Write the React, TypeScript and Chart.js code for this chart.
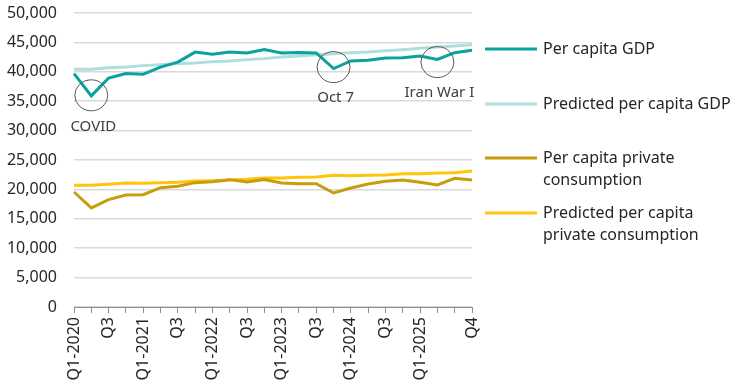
import React, { useEffect, useRef } from "react";
import { Chart, registerables } from "chart.js";

Chart.register(...registerables);

const quarters = [
  "Q1-2020", "Q2-2020", "Q3-2020", "Q4-2020",
  "Q1-2021", "Q2-2021", "Q3-2021", "Q4-2021",
  "Q1-2022", "Q2-2022", "Q3-2022", "Q4-2022",
  "Q1-2023", "Q2-2023", "Q3-2023", "Q4-2023",
  "Q1-2024", "Q2-2024", "Q3-2024", "Q4-2024",
  "Q1-2025", "Q2-2025", "Q3-2025", "Q4-2025",
];

const tickLabels = [
  "Q1-2020", "", "Q3", "",
  "Q1-2021", "", "Q3", "",
  "Q1-2022", "", "Q3", "",
  "Q1-2023", "", "Q3", "",
  "Q1-2024", "", "Q3", "",
  "Q1-2025", "", "", "Q4",
];

const gdp = [
  39700, 35900, 38950, 39700, 39600, 40800, 41650, 43350,
  43000, 43350, 43200, 43800, 43200, 43300, 43200, 40550,
  41850, 41950, 42350, 42400, 42700, 42100, 43250, 43650,
];

const predictedGdp = [
  40420, 40420, 40700, 40800, 41050, 41200, 41390, 41500,
  41730, 41840, 42070, 42240, 42520, 42690, 42920, 43090,
  43260, 43370, 43600, 43770, 44000, 44220, 44390, 44620,
];

const consumption = [
  19560, 16850, 18270, 19050, 19110, 20300, 20530, 21150,
  21320, 21660, 21250, 21660, 21090, 20980, 20980, 19390,
  20240, 20920, 21380, 21600, 21200, 20750, 21890, 21600,
];

const predictedConsumption = [
  20700, 20700, 20870, 21090, 21030, 21150, 21200, 21430,
  21490, 21600, 21720, 21940, 21940, 22060, 22110, 22400,
  22340, 22400, 22450, 22680, 22680, 22790, 22850, 23130,
];

const seriesNames = [
  ["Per capita GDP"],
  ["Predicted per capita GDP"],
  ["Per capita private", "consumption"],
  ["Predicted per capita", "private consumption"],
];

const seriesColors = ["#0aa39b", "#ade0dd", "#c89c0c", "#ffc40c"];

const eventLabels = ["COVID", "Oct 7", "Iran War I"];
const eventIndices = [1, 15, 21];
const eventValues = [36000, 40800, 41650];

const FONT = "'Noto Sans', 'Open Sans', sans-serif";
const TEXT = "#262626";

const overlayPlugin = {
  id: "overlay",
  afterDatasetsDraw(chart: any) {
    const ctx = chart.ctx as CanvasRenderingContext2D;
    const xs = chart.scales.x;
    const ys = chart.scales.y;
    ctx.save();
    for (let i = 0; i < eventLabels.length; i++) {
      const cx = xs.getPixelForValue(eventIndices[i]);
      const cy = ys.getPixelForValue(eventValues[i]);
      ctx.beginPath();
      ctx.ellipse(cx, cy, 16.5, 15.5, 0, 0, Math.PI * 2);
      ctx.strokeStyle = "#595959";
      ctx.lineWidth = 1;
      ctx.stroke();
      ctx.font = `15px ${FONT}`;
      ctx.fillStyle = "#404040";
      ctx.textAlign = "center";
      ctx.textBaseline = "middle";
      ctx.fillText(eventLabels[i], cx + 2, cy + 31);
    }
    const area = chart.chartArea;
    const lx = area.right + 13;
    const lineLen = 52;
    const itemY = [49, 104, 158, 213];
    const lineH = 22;
    ctx.font = `16px ${FONT}`;
    ctx.textAlign = "left";
    ctx.textBaseline = "middle";
    for (let i = 0; i < seriesNames.length; i++) {
      const y = itemY[i];
      ctx.beginPath();
      ctx.moveTo(lx, y);
      ctx.lineTo(lx + lineLen, y);
      ctx.strokeStyle = seriesColors[i];
      ctx.lineWidth = 3;
      ctx.stroke();
      ctx.fillStyle = TEXT;
      seriesNames[i].forEach((t, k) => {
        ctx.fillText(t, lx + lineLen + 6, y + k * lineH);
      });
    }
    ctx.restore();
  },
};

export default function App() {
  const ref = useRef<HTMLCanvasElement>(null);
  useEffect(() => {
    const datasets = [gdp, predictedGdp, consumption, predictedConsumption].map((d, i) => ({
      label: seriesNames[i].join(" "),
      data: d,
      borderColor: seriesColors[i],
      backgroundColor: seriesColors[i],
      borderWidth: 3,
      pointRadius: 0,
      tension: 0,
      fill: false,
    }));
    const chart = new Chart(ref.current as HTMLCanvasElement, {
      type: "line",
      data: { labels: quarters, datasets },
      options: {
        responsive: false,
        animation: false,
        layout: { padding: { top: 13, right: 259, left: 0, bottom: 0 } },
        plugins: { legend: { display: false }, tooltip: { enabled: false } },
        scales: {
          x: {
            offset: false,
            grid: {
              drawOnChartArea: false,
              drawTicks: true,
              tickLength: 6,
              color: "#8c8c8c",
            },
            border: { display: true, color: "#8c8c8c", width: 1 },
            ticks: {
              autoSkip: false,
              maxRotation: 90,
              minRotation: 90,
              padding: 4,
              color: TEXT,
              font: { family: FONT, size: 16 },
              callback: (_v: any, i: number) => tickLabels[i],
            },
            afterFit: (s: any) => {
              s.height = 77;
            },
          },
          y: {
            min: 0,
            max: 50000,
            grid: { color: "#d9d9d9", lineWidth: 1.5, drawTicks: false },
            border: { display: false },
            ticks: {
              stepSize: 5000,
              padding: 17,
              color: TEXT,
              font: { family: FONT, size: 16 },
              callback: (v: any) => Number(v).toLocaleString("en-US"),
            },
            afterFit: (s: any) => {
              s.width = 74;
              s.paddingTop = 0;
              s.paddingBottom = 0;
            },
          },
        },
      },
      plugins: [overlayPlugin],
    });
    return () => chart.destroy();
  }, []);
  return (
    <div style={{ position: "absolute", left: 0, top: 0, width: 731, height: 384, background: "#fff" }}>
      <canvas ref={ref} width={731} height={384} />
    </div>
  );
}
